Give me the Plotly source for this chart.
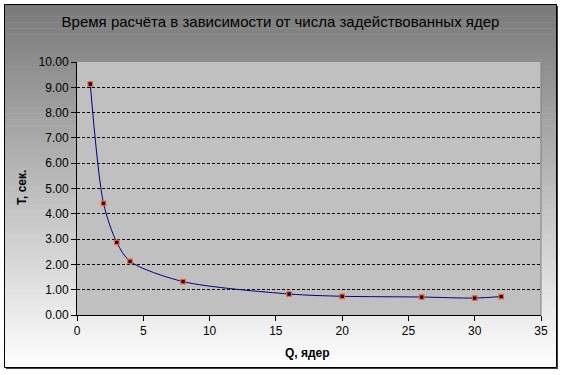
import plotly.graph_objects as go

# Data
cores = [1, 2, 3, 4, 8, 16, 20, 26, 30, 32]
times = [9.13, 4.41, 2.87, 2.12, 1.32, 0.83, 0.74, 0.71, 0.67, 0.73]

title_text = "Время расчёта в зависимости от числа задействованных ядер"
x_title = "Q, ядер"
y_title = "T, сек."

W, H = 561, 375
L, R, T, B = 77, 20, 62, 60
pw = W - L - R
ph = H - T - B

def px_x(px):
    return (px - L) / pw

def px_y(py):
    return (H - B - py) / ph

fig = go.Figure()
fig.add_trace(go.Scatter(
    x=cores, y=times, mode="lines+markers",
    line=dict(color="#000080", width=1, shape="spline", smoothing=0.8),
    marker=dict(symbol="square", size=4.5, color="#000080",
                line=dict(color="#FF6600", width=1.2)),
    showlegend=False,
))

# gradient background (chart area), grey at top -> white at bottom
shapes = []
top_px, bot_px = 4, 368
n = 60
c0, c1 = 0x78, 0xFF
for i in range(n):
    y0p = top_px + (bot_px - top_px) * i / n
    y1p = top_px + (bot_px - top_px) * (i + 1) / n + 0.5
    c = int(round(c0 + (c1 - c0) * (i + 0.5) / n))
    col = f"rgb({c},{c},{c})"
    shapes.append(dict(type="rect", xref="paper", yref="paper", layer="below",
                       x0=px_x(4), x1=px_x(557), y0=px_y(y1p), y1=px_y(y0p),
                       line=dict(width=0), fillcolor=col))
# plot area background drawn above the gradient
shapes.append(dict(type="rect", xref="paper", yref="paper", layer="below",
                   x0=0, x1=1, y0=0, y1=1,
                   line=dict(width=0), fillcolor="#C0C0C0"))
# outer border
shapes.append(dict(type="rect", xref="paper", yref="paper", layer="above",
                   x0=px_x(4.5), x1=px_x(556.5), y0=px_y(367.5), y1=px_y(4.5),
                   line=dict(color="black", width=1), fillcolor="rgba(0,0,0,0)"))
shapes.append(dict(type="line", xref="paper", yref="paper", layer="above",
                   x0=px_x(557.5), x1=px_x(557.5), y0=px_y(368.5), y1=px_y(6),
                   line=dict(color="#404040", width=1)))
shapes.append(dict(type="line", xref="paper", yref="paper", layer="above",
                   x0=px_x(6), x1=px_x(558), y0=px_y(368.5), y1=px_y(368.5),
                   line=dict(color="#404040", width=1)))
# right edge of plot area (darker grey)
shapes.append(dict(type="line", xref="paper", yref="paper", layer="above",
                   x0=1, x1=1, y0=0, y1=1,
                   line=dict(color="#808080", width=1)))

font_family = "Liberation Sans, Arial, sans-serif"

fig.update_layout(
    width=W, height=H,
    margin=dict(l=L, r=R, t=T, b=B),
    paper_bgcolor="rgba(255,255,255,0)",
    plot_bgcolor="rgba(192,192,192,0)",
    font=dict(family=font_family, size=12, color="black"),
    title=dict(text=title_text, x=0.5, xref="container", xanchor="center",
               y=1 - 22 / H, yref="container", yanchor="middle",
               font=dict(size=15, color="black", family=font_family)),
    shapes=shapes,
    xaxis=dict(range=[0, 35], dtick=5, tick0=0, showgrid=False, zeroline=False,
               showline=True, linecolor="black", linewidth=1,
               ticks="outside", ticklen=5, tickcolor="black",
               tickfont=dict(size=12)),
    yaxis=dict(range=[0, 10], dtick=1, tick0=0, tickformat=".2f",
               showgrid=True, gridcolor="black", gridwidth=1, griddash="3px,2px",
               zeroline=False, showline=True, linecolor="black", linewidth=1,
               ticks="outside", ticklen=5, tickcolor="black",
               tickfont=dict(size=12)),
    annotations=[
        dict(text=f"<b>{x_title}</b>", xref="paper", yref="paper",
             x=px_x(307), y=px_y(353), showarrow=False,
             xanchor="center", yanchor="middle", font=dict(size=12)),
        dict(text=f"<b>{y_title}</b>", xref="paper", yref="paper",
             x=px_x(22), y=px_y(188), showarrow=False, textangle=-90,
             xanchor="center", yanchor="middle", font=dict(size=12)),
    ],
)

fig.write_html("out.html",
               config={"displayModeBar": False},
               post_script="document.body.style.margin='0px';document.body.style.padding='0px';")
